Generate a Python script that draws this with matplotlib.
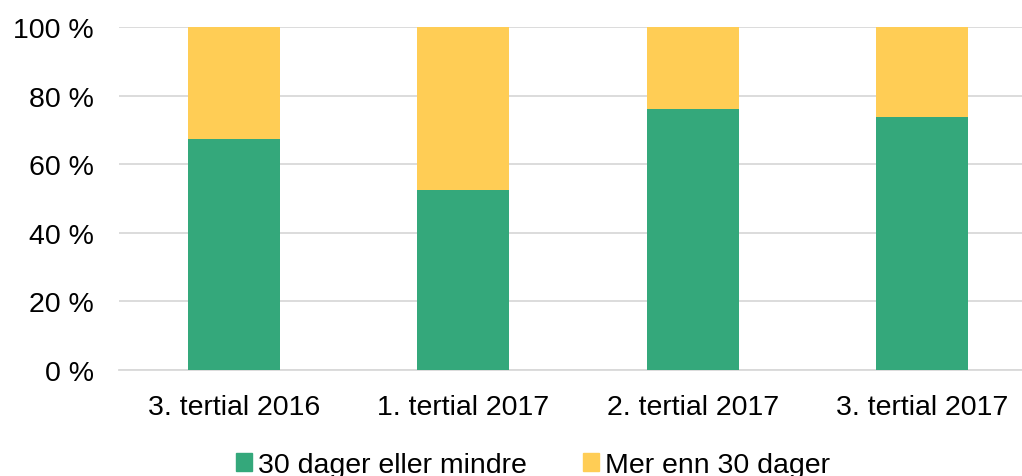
import matplotlib.pyplot as plt
from matplotlib.patches import Patch

categories = ['3. tertial 2016', '1. tertial 2017', '2. tertial 2017', '3. tertial 2017']
under_30 = [67.3, 52.5, 76.1, 73.8]
over_30 = [100 - v for v in under_30]
series_names = ['30 dager eller mindre', 'Mer enn 30 dager']
GREEN = '#34A87B'
YELLOW = '#FFCD55'

plt.rcParams['font.family'] = ['Liberation Sans', 'DejaVu Sans']

fig = plt.figure(figsize=(10.22, 4.77), dpi=100)
ax = fig.add_axes([119 / 1022, 106 / 477, 918 / 1022, 343 / 477])

x = range(len(categories))
ax.bar(x, under_30, width=0.4, color=GREEN, zorder=3)
ax.bar(x, over_30, width=0.4, bottom=under_30, color=YELLOW, zorder=3)

ax.set_xlim(-0.5, 3.5)
ax.set_ylim(0, 100)
ax.set_yticks(range(0, 101, 20))
ax.set_yticklabels([f'{v} %' for v in range(0, 101, 20)])
ax.set_xticks(list(x))
ax.set_xticklabels(categories)
ax.tick_params(axis='both', length=0, labelsize=20.5)
ax.tick_params(axis='x', pad=17)
ax.tick_params(axis='y', pad=18)
ax.grid(axis='y', color='#D9D9D9', linewidth=1.3, zorder=0)
for s in ['top', 'right', 'left']:
    ax.spines[s].set_visible(False)
ax.spines['bottom'].set_color('#D9D9D9')
ax.spines['bottom'].set_linewidth(1.3)

handles = [Patch(color=GREEN), Patch(color=YELLOW)]
fig.legend(handles, series_names, loc='center', bbox_to_anchor=(533 / 1022, 1 - 466 / 477),
           ncol=2, frameon=False, fontsize=20.5, handlelength=0.55, handleheight=0.55,
           handletextpad=0.2, columnspacing=2.0, borderpad=0)

fig.savefig('out.png', dpi=100)
